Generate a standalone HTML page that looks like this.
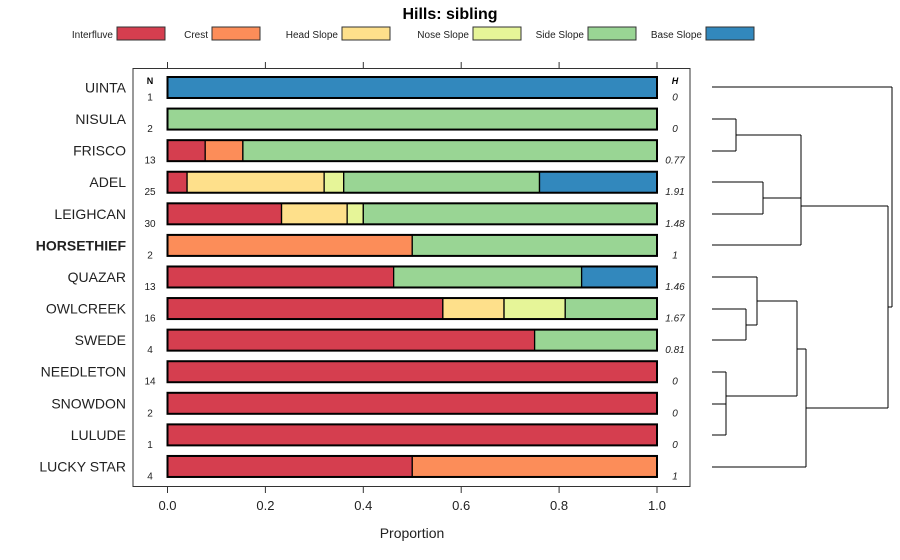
<!DOCTYPE html>
<html><head><meta charset="utf-8"><style>
body{margin:0;background:#fff;font-family:"Liberation Sans",sans-serif}
svg{display:block}
</style></head><body>
<svg id="c" width="900" height="560" xmlns="http://www.w3.org/2000/svg"></svg>
<script>
const categories=["UINTA","NISULA","FRISCO","ADEL","LEIGHCAN","HORSETHIEF","QUAZAR","OWLCREEK","SWEDE","NEEDLETON","SNOWDON","LULUDE","LUCKY STAR"];
const seriesNames=["Interfluve","Crest","Head Slope","Nose Slope","Side Slope","Base Slope"];
const interfluve=[0,0,0.077,0.04,0.233,0,0.462,0.5625,0.75,1,1,1,0.5];
const crest=[0,0,0.077,0,0,0.5,0,0,0,0,0,0,0.5];
const headSlope=[0,0,0,0.28,0.134,0,0,0.125,0,0,0,0,0];
const noseSlope=[0,0,0,0.04,0.033,0,0,0.125,0,0,0,0,0];
const sideSlope=[0,1,0.846,0.40,0.60,0.5,0.384,0.1875,0.25,0,0,0,0];
const baseSlope=[1,0,0,0.24,0,0,0.154,0,0,0,0,0,0];
const nValues=[1,2,13,25,30,2,13,16,4,14,2,1,4];
const hValues=["0","0","0.77","1.91","1.48","1","1.46","1.67","0.81","0","0","0","1"];
const xTicks=[0,0.2,0.4,0.6,0.8,1.0];
const colors=["#D53E4F","#FC8D59","#FEE08B","#E6F598","#99D594","#3288BD"];
const svg=document.getElementById('c');
const NS="http://www.w3.org/2000/svg";
function el(t,a,txt){const e=document.createElementNS(NS,t);for(const k in a)e.setAttribute(k,a[k]);if(txt!==undefined)e.textContent=txt;svg.appendChild(e);return e;}
const xs=v=>167.5+v*489.5;
const ys=i=>87.5+i*31.58;
let e;
e=el('text',{x:450,y:19,'font-size':16,'font-weight':'bold','text-anchor':'middle'},'Hills: sibling');

// legend
const legX=[[70,117],[182,212],[276,342],[401,473],[527,588],[647,706]];
seriesNames.forEach((s,k)=>{
 let t=el('text',{x:legX[k][1]-4,y:38,'font-size':10,'text-anchor':'end',fill:'#222'},s);
 
 let r=el('rect',{x:legX[k][1],y:27,width:48,height:13,fill:colors[k],stroke:'#333','stroke-width':1});
 
});
// panel
e=el('rect',{x:133,y:68.5,width:557,height:418,fill:'none',stroke:'#333','stroke-width':1});

xTicks.forEach(v=>{
 el('line',{x1:xs(v),x2:xs(v),y1:62,y2:68.5,stroke:'#333'});
 el('line',{x1:xs(v),x2:xs(v),y1:486.5,y2:493,stroke:'#333'});
 let t=el('text',{x:xs(v),y:510,'font-size':13,'text-anchor':'middle',fill:'#222'},v.toFixed(1));
 
});
e=el('text',{x:412,y:538,'font-size':14,'text-anchor':'middle',fill:'#222'},'Proportion');

el('text',{x:150,y:84,'font-size':9,'font-weight':'bold','text-anchor':'middle'},'N');
el('text',{x:675,y:84,'font-size':9,'font-weight':'bold','font-style':'italic','text-anchor':'middle'},'H');
const series=[interfluve,crest,headSlope,noseSlope,sideSlope,baseSlope];
categories.forEach((c,i)=>{
 const y=ys(i);
 let t=el('text',{x:126,y:y+5,'font-size':14,'text-anchor':'end',fill:'#222','font-weight':c==='HORSETHIEF'?'bold':'normal'},c);
 
 let cum=0;
 series.forEach((s,k)=>{
  if(s[i]>0){
   let r=el('rect',{x:xs(cum),y:y-10.5,width:xs(cum+s[i])-xs(cum),height:21,fill:colors[k],stroke:'#000','stroke-width':1.3});
   
   cum+=s[i];
  }
 });
 let b=el('rect',{x:xs(0),y:y-10.5,width:xs(1)-xs(0),height:21,fill:'none',stroke:'#000','stroke-width':2});
 
 let n=el('text',{x:150,y:y+13,'font-size':10,'text-anchor':'middle',fill:'#222'},String(nValues[i]));
 
 let h=el('text',{x:675,y:y+13,'font-size':10,'font-style':'italic','text-anchor':'middle',fill:'#222'},hValues[i]);
 
});
// dendrogram
const seg=[
 [712,87,892,87],[892,87,892,307],[888,307,892,307],
 [712,119,736,119],[712,151,736,151],[736,119,736,151],[736,135,801,135],
 [712,182,763,182],[712,214,763,214],[763,182,763,214],[763,198,801,198],
 [712,245,801,245],[801,135,801,245],[801,206,888,206],[888,206,888,408],
 [712,277,757,277],[712,309,746,309],[712,340,746,340],[746,309,746,340],[746,325,757,325],[757,277,757,325],[757,301,797,301],
 [712,372,726,372],[712,404,726,404],[712,435,726,435],[726,372,726,435],[726,396,797,396],[797,301,797,396],[797,349,806,349],
 [712,467,806,467],[806,349,806,467],[806,408,888,408]
];
seg.forEach(s=>{let l=el('line',{x1:s[0],y1:s[1],x2:s[2],y2:s[3],stroke:'#000','stroke-width':1});
 });
</script>
</body></html>
